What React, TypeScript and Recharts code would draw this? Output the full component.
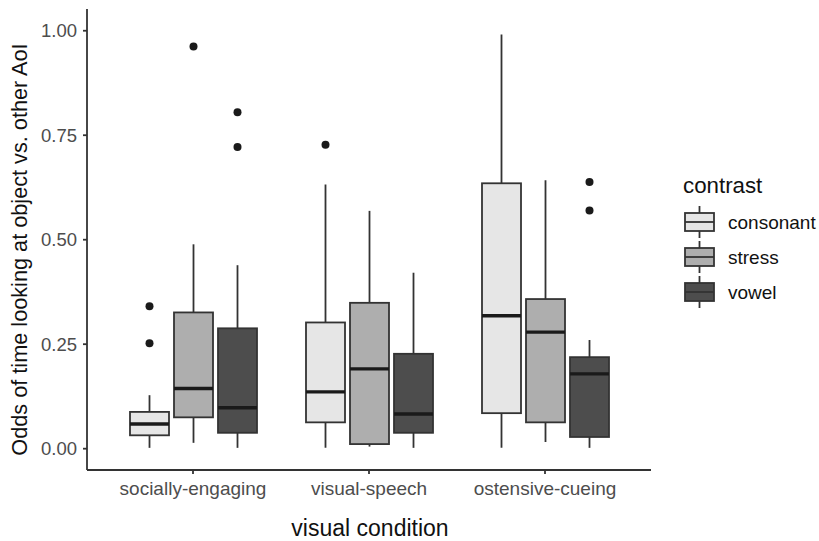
import { ComposedChart, Bar, XAxis, YAxis } from "recharts"

const categories = ["socially-engaging", "visual-speech", "ostensive-cueing"]
const contrasts = ["consonant", "stress", "vowel"]
const fills = ["#E6E6E6", "#AEAEAE", "#4D4D4D"]
const yTicks = [0, 0.25, 0.5, 0.75, 1]

// [lower whisker, Q1, median, Q3, upper whisker] per visual condition
const consonantStats = [
  [0.002, 0.032, 0.059, 0.088, 0.128],
  [0.002, 0.063, 0.136, 0.302, 0.632],
  [0.002, 0.085, 0.318, 0.635, 0.991],
]
const stressStats = [
  [0.014, 0.075, 0.144, 0.326, 0.489],
  [0.005, 0.011, 0.191, 0.349, 0.569],
  [0.016, 0.063, 0.279, 0.358, 0.642],
]
const vowelStats = [
  [0.002, 0.038, 0.098, 0.288, 0.439],
  [0.002, 0.038, 0.083, 0.227, 0.421],
  [0.002, 0.028, 0.179, 0.219, 0.26],
]
const consonantOutliers = [[0.341, 0.252], [0.727], []]
const stressOutliers = [[0.962], [], []]
const vowelOutliers = [[0.805, 0.722], [], [0.638, 0.57]]

const EDGE = "#333333"
const FONT = "'Liberation Sans', Arial, sans-serif"

const statsByContrast = [consonantStats, stressStats, vowelStats]
const outliersByContrast = [consonantOutliers, stressOutliers, vowelOutliers]

// range bar from lower to upper whisker, box drawn inside the shape
const chartData = categories.map((cond, i) => {
  const row: any = { cond }
  contrasts.forEach((c, k) => {
    row[c] = [statsByContrast[k][i][0], statsByContrast[k][i][4]]
  })
  return row
})

const makeBox = (stats: number[][], outliers: number[][], fill: string) => (props: any) => {
  const { x, y, width, height, payload } = props
  if (!payload) return null
  const i = categories.indexOf(payload.cond)
  const [lo, q1, med, q3, hi] = stats[i]
  const perUnit = height / (hi - lo)
  const toY = (v: number) => y + (hi - v) * perUnit
  const cx = x + width / 2
  return (
    <g>
      <line x1={cx} x2={cx} y1={toY(hi)} y2={toY(lo)} stroke={EDGE} strokeWidth={1.8} />
      <rect x={x} y={toY(q3)} width={width} height={toY(q1) - toY(q3)} fill={fill} stroke={EDGE} strokeWidth={1.8} />
      <line x1={x} x2={x + width} y1={toY(med)} y2={toY(med)} stroke="#1a1a1a" strokeWidth={3.4} />
      {outliers[i].map((v, k) => (
        <circle key={k} cx={cx} cy={toY(v)} r={4} fill="#1a1a1a" />
      ))}
    </g>
  )
}

const YTitle = (props: any) => {
  const vb = props.viewBox
  const cy = vb.y + vb.height / 2 + 10
  return (
    <text x={27} y={cy} transform={`rotate(-90, 27, ${cy})`} textAnchor="middle" fontSize={21.7} fill="#111" fontFamily={FONT}>
      Odds of time looking at object vs. other AoI
    </text>
  )
}

const XTitle = (props: any) => {
  const vb = props.viewBox
  return (
    <text x={vb.x + vb.width / 2 + 1} y={vb.y + 66} textAnchor="middle" fontSize={23} fill="#111" fontFamily={FONT}>
      visual condition
    </text>
  )
}

export default function App() {
  return (
    <div style={{ position: "absolute", left: 0, top: 0, width: 819, height: 541, background: "#fff" }}>
      <ComposedChart
        width={819}
        height={541}
        data={chartData}
        margin={{ top: 9, right: 168, left: 0, bottom: 0 }}
        barSize={39}
        barGap={5}
      >
        <XAxis
          dataKey="cond"
          interval={0}
          padding={{ left: 18, right: 18 }}
          height={71}
          tickSize={4}
          tickMargin={8}
          axisLine={{ stroke: EDGE, strokeWidth: 1.8 }}
          tickLine={{ stroke: EDGE, strokeWidth: 1.8 }}
          tick={{ fill: "#4d4d4d", fontSize: 19, fontFamily: FONT }}
          label={<XTitle />}
        />
        <YAxis
          width={87}
          domain={[-0.051, 1.052]}
          allowDataOverflow
          ticks={yTicks}
          tickFormatter={(v: number) => v.toFixed(2)}
          tickSize={4}
          tickMargin={6}
          axisLine={{ stroke: EDGE, strokeWidth: 1.8 }}
          tickLine={{ stroke: EDGE, strokeWidth: 1.8 }}
          tick={{ fill: "#4d4d4d", fontSize: 18.5, fontFamily: FONT }}
          label={<YTitle />}
        />
        {contrasts.map((c, k) => (
          <Bar
            key={c}
            dataKey={c}
            fill={fills[k]}
            isAnimationActive={false}
            shape={makeBox(statsByContrast[k], outliersByContrast[k], fills[k])}
          />
        ))}
      </ComposedChart>
      <svg width={819} height={541} style={{ position: "absolute", left: 0, top: 0, pointerEvents: "none" }}>
        <text x={683} y={193} fontSize={22.3} fill="#111" fontFamily={FONT}>
          contrast
        </text>
        {contrasts.map((c, k) => {
          const cy = 222 + k * 35
          return (
            <g key={c}>
              <line x1={699.5} x2={699.5} y1={cy - 16} y2={cy + 16} stroke={EDGE} strokeWidth={1.8} />
              <rect x={685} y={cy - 9} width={29} height={18} fill={fills[k]} stroke={EDGE} strokeWidth={1.8} />
              <line x1={685} x2={714} y1={cy} y2={cy} stroke={EDGE} strokeWidth={1.8} />
              <text x={728} y={cy + 6.5} fontSize={19} fill="#111" fontFamily={FONT}>
                {c}
              </text>
            </g>
          )
        })}
      </svg>
    </div>
  )
}
